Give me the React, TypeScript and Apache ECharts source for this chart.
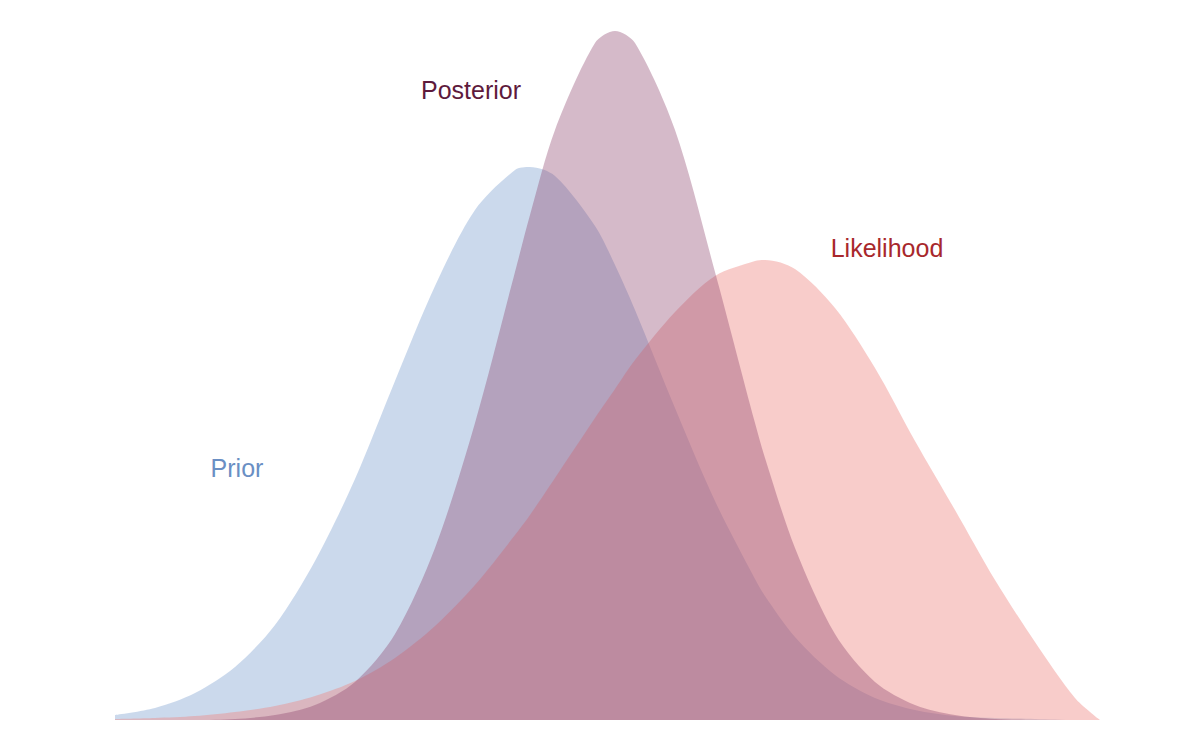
import React, { useEffect, useRef } from "react";
import * as echarts from "echarts";

const xs = [115,155,195,235,275,315,355,395,435,475,515,530,555,595,615,635,675,715,755,765,795,835,875,915,955,995,1035,1075,1100];
const prior = [5,12,27,53,95,159,241,339,434,510,550,553,544,494,455,410,312,219,141,124,83,45,22,10,4,2,1,0,0];
const posterior = [0,0,0,1,5,15,38,86,172,297,448,505,590,677,689,677,590,448,297,262,172,86,38,15,5,1,0,0,0];
const likelihood = [1,2,4,8,14,24,39,62,94,135,185,205,242,302,331,360,408,444,459,460,451,412,352,279,210,140,78,22,0];

const labels = [
  { text: "Prior", x: 237, y: 468, color: "#6a8fc4" },
  { text: "Posterior", x: 471, y: 90, color: "#5e1a3c" },
  { text: "Likelihood", x: 887, y: 248, color: "#a8282c" },
];

function mk(name: string, vals: number[], color: string, op: number) {
  return {
    name, type: "line", smooth: 0.3, symbol: "none",
    data: xs.map((x, i) => [x, vals[i]]),
    lineStyle: { width: 0 },
    areaStyle: { color, opacity: op },
  };
}

export default function App() {
  const ref = useRef<HTMLDivElement>(null);
  useEffect(() => {
    const c = echarts.init(ref.current!, undefined, { renderer: "svg" });
    c.setOption({
      animation: false,
      grid: { left: 115, right: 81, top: 31, bottom: 15 },
      xAxis: { type: "value", min: 115, max: 1100, show: false },
      yAxis: { type: "value", min: 0, max: 689, show: false },
      series: [
        mk("Prior", prior, "#7297cb", 0.37),
        mk("Likelihood", likelihood, "#ee8580", 0.42),
        mk("Posterior", posterior, "#8a4068", 0.36),
      ],
      graphic: labels.map((l) => ({
        type: "text", x: l.x, y: l.y,
        style: { text: l.text, fill: l.color, font: "25px 'Liberation Sans', Arial, sans-serif", textAlign: "center", textVerticalAlign: "middle" },
      })),
    });
    return () => c.dispose();
  }, []);
  return <div ref={ref} style={{ width: 1181, height: 735, position: "absolute", left: 0, top: 0 }} />;
}
